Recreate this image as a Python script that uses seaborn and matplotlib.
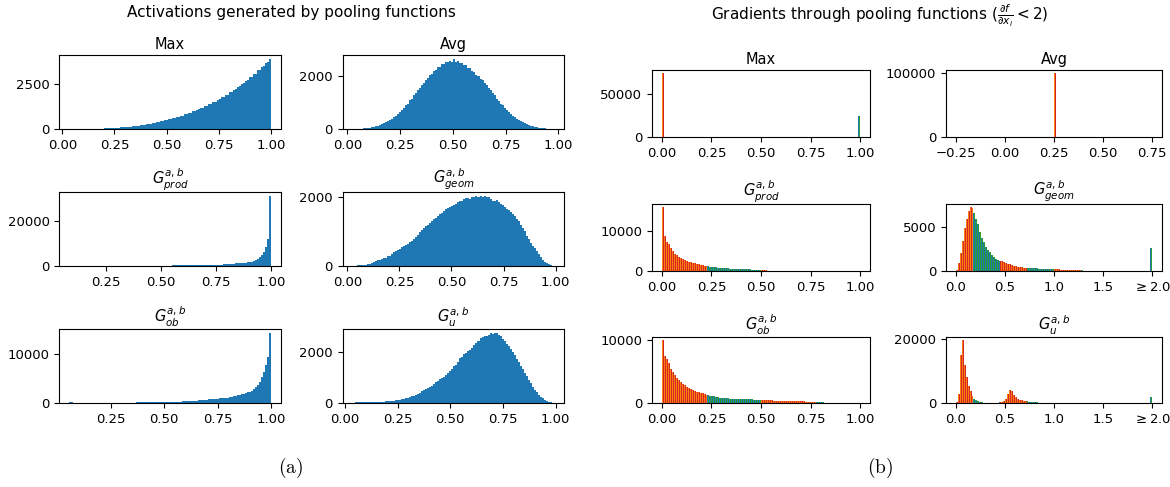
import numpy as np
import pandas as pd
import matplotlib
matplotlib.use("Agg")
import matplotlib.pyplot as plt
import seaborn as sns

# ---------------- data ----------------
# (a) activations: 100-bin histograms, one per pooling function
act_titles = ["Max", "Avg", r"$G^{a,b}_{prod}$", r"$G^{a,b}_{geom}$", r"$G^{a,b}_{ob}$", r"$G^{a,b}_{u}$"]
act_ranges = [(0.034, 1.0), (0.026, 0.979), (0.085, 1.0), (0.026, 0.992), (0.055, 1.0), (0.037, 0.992)]

act_max = [0, 0, 1, 1, 2, 3, 3, 5, 6, 8,
           9, 12, 15, 17, 20, 25, 27, 33, 36, 43,
           47, 56, 60, 70, 75, 87, 93, 106, 112, 127,
           135, 152, 160, 180, 188, 210, 220, 245, 255, 281,
           292, 322, 334, 367, 380, 415, 430, 468, 482, 525,
           540, 588, 600, 655, 668, 727, 740, 800, 818, 884,
           900, 970, 985, 1062, 1080, 1160, 1178, 1265, 1282, 1375,
           1390, 1490, 1505, 1615, 1630, 1740, 1760, 1875, 1895, 2020,
           2040, 2170, 2190, 2325, 2350, 2490, 2515, 2660, 2690, 2840,
           2870, 3030, 3055, 3225, 3250, 3430, 3455, 3640, 3665, 3880]

act_avg = [1, 3, 5, 8, 14, 19, 29, 37, 51, 63,
           83, 99, 127, 148, 184, 209, 255, 287, 342, 381,
           448, 493, 572, 628, 720, 785, 882, 955, 1068, 1140,
           1255, 1330, 1450, 1520, 1645, 1715, 1840, 1900, 2010, 2060,
           2170, 2205, 2310, 2335, 2420, 2430, 2500, 2495, 2540, 2525,
           2640, 2520, 2545, 2480, 2455, 2410, 2395, 2300, 2275, 2180,
           2140, 2040, 2000, 1890, 1830, 1715, 1650, 1530, 1445, 1330,
           1255, 1135, 1065, 955, 890, 780, 715, 625, 565, 495,
           445, 385, 343, 289, 250, 212, 182, 150, 124, 101,
           82, 64, 51, 38, 28, 20, 13, 9, 5, 3]

act_prod = [20, 22, 24, 26, 28, 30, 32, 34, 36, 38,
            40, 42, 44, 46, 48, 50, 53, 56, 59, 62,
            65, 68, 71, 74, 77, 80, 84, 88, 92, 96,
            100, 105, 110, 115, 120, 125, 130, 136, 142, 148,
            154, 160, 166, 172, 178, 185, 192, 199, 206, 213,
            220, 228, 236, 244, 330, 340, 350, 360, 372, 384,
            396, 408, 420, 432, 445, 458, 471, 485, 500, 515,
            530, 545, 560, 580, 600, 620, 900, 930, 960, 1000,
            1040, 1080, 1130, 1180, 1240, 1310, 1390, 1480, 1600, 1750,
            1950, 2250, 2650, 3100, 3850, 4900, 6400, 8600, 11900, 31200]

act_geom = [5, 10, 15, 20, 25, 30, 38, 48, 65, 85,
            110, 140, 165, 180, 200, 225, 245, 275, 300, 345,
            400, 420, 470, 500, 540, 585, 610, 650, 690, 730,
            775, 830, 900, 970, 1030, 1090, 1160, 1180, 1250, 1300,
            1350, 1400, 1450, 1500, 1540, 1580, 1640, 1680, 1720, 1740,
            1770, 1800, 1840, 1880, 1890, 1930, 1960, 1970, 1950, 1990,
            2000, 2040, 2000, 2020, 2010, 2030, 1990, 1990, 1950, 1880,
            1880, 1900, 1860, 1800, 1760, 1720, 1660, 1610, 1560, 1500,
            1440, 1360, 1290, 1200, 1100, 1000, 880, 770, 680, 590,
            520, 420, 340, 250, 180, 120, 80, 45, 20, 8]

act_ob = [110, 105, 100, 95, 90, 88, 86, 84, 82, 80,
          78, 76, 74, 72, 70, 70, 70, 70, 70, 72,
          74, 76, 78, 80, 82, 84, 86, 88, 90, 92,
          95, 98, 100, 105, 110, 115, 120, 125, 130, 135,
          140, 145, 150, 155, 160, 165, 170, 175, 180, 190,
          200, 220, 240, 260, 280, 300, 320, 340, 360, 380,
          410, 440, 470, 500, 530, 560, 600, 640, 680, 720,
          760, 800, 840, 880, 920, 970, 1000, 1050, 1100, 1180,
          1270, 1360, 1450, 1560, 1680, 1800, 1930, 2060, 2200, 2330,
          2480, 2760, 3170, 3650, 4340, 5240, 6400, 7800, 9500, 14400]

act_u = [15, 20, 22, 25, 25, 28, 28, 30, 30, 32,
         35, 38, 40, 45, 50, 55, 60, 68, 75, 82,
         90, 100, 110, 125, 145, 165, 185, 210, 235, 260,
         290, 320, 360, 400, 450, 490, 540, 580, 620, 680,
         740, 800, 860, 920, 970, 1030, 1080, 1160, 1230, 1330,
         1430, 1500, 1600, 1760, 1800, 1900, 1960, 2010, 2080, 2150,
         2260, 2340, 2420, 2530, 2560, 2600, 2610, 2650, 2750, 2680,
         2740, 2730, 2640, 2600, 2500, 2420, 2320, 2220, 2100, 1990,
         1860, 1730, 1590, 1460, 1320, 1180, 1040, 900, 770, 640,
         520, 420, 330, 250, 180, 120, 75, 40, 20, 8]

act_counts = [act_max, act_avg, act_prod, act_geom, act_ob, act_u]
act_yticks = [[0, 2500], [0, 2000], [0, 20000], [0, 2000], [0, 10000], [0, 2000]]
act_xticks = [[0, 0.25, 0.5, 0.75, 1.0], [0, 0.25, 0.5, 0.75, 1.0], [0.25, 0.5, 0.75, 1.0],
              [0, 0.25, 0.5, 0.75, 1.0], [0.25, 0.5, 0.75, 1.0], [0, 0.25, 0.5, 0.75, 1.0]]

# (b) gradients: 4 inputs of the pooling region, 100 bins each
grad_inputs = ["x1", "x2", "x3", "x4"]
grad_titles = act_titles
grad_ranges = [(0.0, 1.0), (-0.25, 0.75), (0.0, 1.0), (0.0, 2.0), (0.0, 1.0), (0.0, 2.0)]

grad_max = [75000] + [0] * 98 + [25000]
grad_avg = [0] * 50 + [100000] + [0] * 49

grad_prod = [16000, 8800, 7200, 6700, 5700, 4900, 4300, 3900, 3600, 3300,
             3000, 2750, 2500, 2350, 2200, 2050, 1900, 1750, 1650, 1550,
             1450, 1350, 1250, 1180, 1100, 1030, 970, 910, 860, 810,
             760, 720, 680, 650, 620, 590, 560, 540, 510, 490,
             470, 450, 430, 410, 390, 370, 350, 330, 310, 290,
             270, 240, 150, 40, 10, 8, 6, 5, 4, 4,
             3, 3, 3, 2, 2, 2, 2, 2, 2, 1,
             1, 1, 1, 1, 1, 1, 1, 1, 1, 1,
             1, 1, 1, 1, 1, 1, 1, 1, 1, 1,
             1, 1, 1, 1, 1, 1, 1, 1, 1, 5]

grad_geom = [100, 900, 2000, 3400, 4800, 5900, 6800, 7200, 7100, 6600,
             5900, 5300, 4400, 3750, 3250, 2750, 2400, 2100, 1850, 1620,
             1400, 1280, 1180, 1080, 1000, 920, 840, 760, 680, 600,
             520, 480, 440, 410, 390, 370, 350, 330, 315, 305,
             300, 285, 270, 255, 240, 225, 215, 205, 195, 185,
             180, 175, 170, 165, 160, 150, 145, 140, 130, 120,
             110, 100, 90, 80, 70, 10, 5, 4, 3, 3,
             2, 2, 2, 2, 2, 2, 2, 2, 2, 2,
             2, 2, 2, 2, 2, 2, 2, 2, 2, 2,
             2, 2, 2, 2, 2, 2, 2, 2, 2, 2650]

grad_ob = [10000, 7450, 7000, 6350, 5450, 4950, 4450, 4050, 3700, 3350,
           3050, 2800, 2600, 2420, 2270, 2050, 1930, 1820, 1700, 1610,
           1520, 1430, 1340, 1260, 1180, 1110, 1040, 970, 910, 860,
           810, 780, 760, 730, 700, 670, 650, 640, 630, 620,
           610, 600, 590, 580, 570, 560, 550, 530, 510, 480,
           450, 440, 430, 420, 410, 400, 395, 390, 380, 370,
           350, 340, 330, 320, 310, 300, 290, 280, 270, 260,
           250, 240, 230, 220, 210, 200, 190, 170, 150, 120,
           100, 80, 70, 60, 55, 50, 45, 40, 35, 30,
           25, 22, 20, 18, 16, 15, 14, 13, 12, 10]

grad_u = [300, 2800, 15000, 19700, 12000, 8000, 5300, 3800, 2300, 1300,
          800, 500, 300, 200, 150, 120, 100, 100, 100, 110,
          120, 140, 170, 250, 500, 1300, 2800, 4200, 3800, 2600,
          1800, 1300, 1000, 800, 650, 550, 480, 420, 360, 300,
          250, 200, 80, 80, 75, 75, 70, 70, 70, 65,
          65, 65, 60, 60, 60, 60, 55, 55, 55, 55,
          55, 50, 50, 50, 50, 50, 50, 50, 50, 50,
          50, 50, 50, 50, 50, 50, 50, 50, 50, 50,
          50, 50, 50, 50, 50, 50, 50, 50, 50, 50,
          50, 50, 50, 50, 50, 50, 50, 50, 50, 1900]

grad_counts = [grad_max, grad_avg, grad_prod, grad_geom, grad_ob, grad_u]
grad_yticks = [[0, 50000], [0, 100000], [0, 10000], [0, 5000], [0, 10000], [0, 20000]]
grad_xticks = [[0, 0.25, 0.5, 0.75, 1.0], [-0.25, 0, 0.25, 0.5, 0.75], [0, 0.25, 0.5, 0.75, 1.0],
               [0, 0.5, 1.0, 1.5, 2.0], [0, 0.25, 0.5, 0.75, 1.0], [0, 0.5, 1.0, 1.5, 2.0]]
grad_xlabels = [None, None, None, ["0.0", "0.5", "1.0", "1.5", r"$\geq 2.0$"], None,
                ["0.0", "0.5", "1.0", "1.5", r"$\geq 2.0$"]]

BLUE = "#1f77b4"
PALETTE = ["#1f77b4", "#ff7f0e", "#2ca02c", "#d62728"]

# ---------------- figure ----------------
plt.rcParams["font.family"] = ["DejaVu Sans"]
plt.rcParams["font.size"] = 9.5
W, H = 1170, 487
fig = plt.figure(figsize=(W / 100, H / 100), dpi=100)


def add_ax(x0, x1, y0, y1):
    return fig.add_axes([x0 / W, 1 - y1 / H, (x1 - x0) / W, (y1 - y0) / H])


left_cols = [(59.3, 281), (342.7, 564)]
left_rows = [(55, 129), (192, 266), (329, 403)]
right_cols = [(652, 870), (946, 1162)]
right_rows = [(70, 137), (204, 271), (337, 403)]

for k in range(6):
    r, c = divmod(k, 2)
    ax = add_ax(*left_cols[c], *left_rows[r])
    lo, hi = act_ranges[k]
    counts = np.asarray(act_counts[k], dtype=float)
    n = len(counts)
    edges = np.linspace(lo, hi, n + 1)
    df = pd.DataFrame({"value": (edges[:-1] + edges[1:]) / 2, "count": counts})
    sns.histplot(data=df, x="value", weights="count", bins=n, binrange=(lo, hi),
                 color=BLUE, alpha=1, linewidth=0, edgecolor="none", ax=ax)
    ax.set_title(act_titles[k], fontsize=10.5, pad=4)
    ax.set_xlabel("")
    ax.set_ylabel("")
    ax.set_yticks(act_yticks[k])
    ax.set_xticks(act_xticks[k])

for k in range(6):
    r, c = divmod(k, 2)
    ax = add_ax(*right_cols[c], *right_rows[r])
    lo, hi = grad_ranges[k]
    counts = np.asarray(grad_counts[k], dtype=float)
    n = len(counts)
    edges = np.linspace(lo, hi, n + 1)
    centers = (edges[:-1] + edges[1:]) / 2
    df = pd.DataFrame({
        "value": np.tile(centers, len(grad_inputs)),
        "count": np.tile(counts, len(grad_inputs)),
        "input": np.repeat(grad_inputs, n),
    })
    sns.histplot(data=df, x="value", weights="count", hue="input", hue_order=grad_inputs,
                 bins=n, binrange=(lo, hi), multiple="dodge", shrink=1.0, palette=PALETTE,
                 alpha=1, linewidth=0, edgecolor="none", antialiased=False,
                 legend=False, ax=ax)
    ax.set_title(grad_titles[k], fontsize=10.5, pad=4)
    ax.set_xlabel("")
    ax.set_ylabel("")
    ax.set_yticks(grad_yticks[k])
    ax.set_xticks(grad_xticks[k])
    if grad_xlabels[k] is not None:
        ax.set_xticklabels(grad_xlabels[k])

fig.text(291 / W, 1 - 12 / H, "Activations generated by pooling functions",
         ha="center", va="center", fontsize=11)
fig.text(880 / W, 1 - 16 / H,
         r"Gradients through pooling functions ($\frac{\partial f}{\partial x_i} < 2$)",
         ha="center", va="center", fontsize=11)
fig.text(291 / W, 1 - 468 / H, r"$\mathrm{(a)}$", ha="center", va="center",
         fontsize=14, math_fontfamily="cm")
fig.text(880 / W, 1 - 468 / H, r"$\mathrm{(b)}$", ha="center", va="center",
         fontsize=14, math_fontfamily="cm")

fig.savefig("out.png", dpi=100)
